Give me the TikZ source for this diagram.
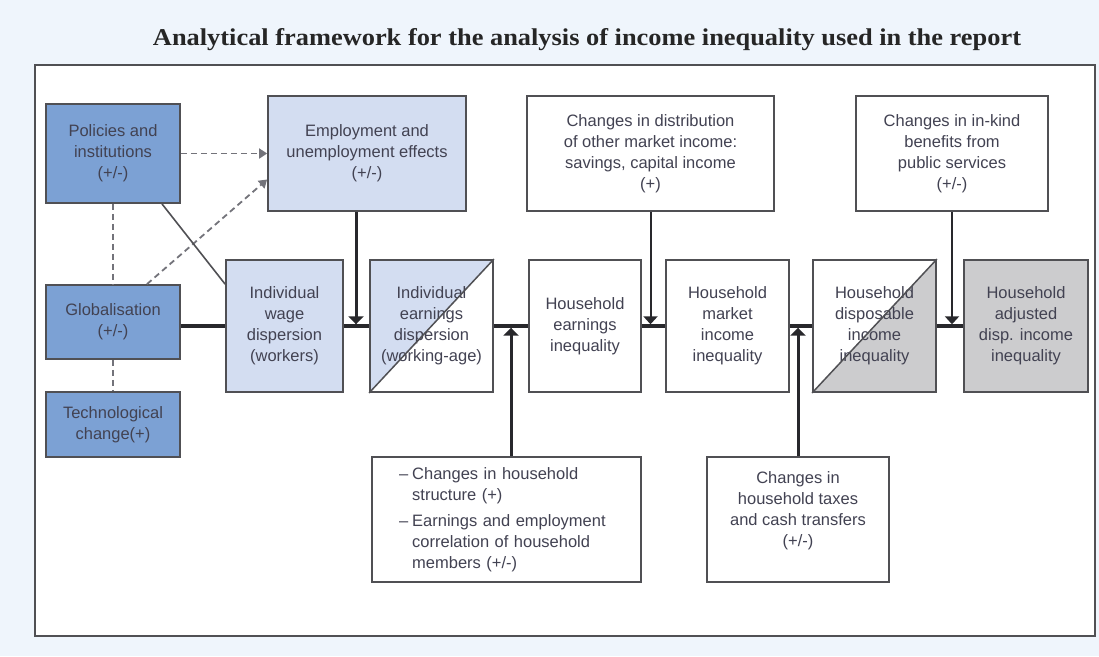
\documentclass[tikz,border=0pt]{standalone}
\usepackage{graphicx}
\usepackage{fontspec}
\setmainfont{Liberation Sans}
\newfontfamily\titlefont{Liberation Serif}
\usetikzlibrary{arrows.meta,calc}
\definecolor{bgblue}{RGB}{239,245,252}
\definecolor{darkblue}{RGB}{124,161,212}
\definecolor{lightblue}{RGB}{211,221,241}
\definecolor{boxgray}{RGB}{204,204,206}
\definecolor{boxline}{RGB}{80,80,84}
\definecolor{txt}{RGB}{66,66,82}
\definecolor{flowcol}{RGB}{40,40,44}
\definecolor{dashcol}{RGB}{115,115,122}
\begin{document}
\begin{tikzpicture}[x=1pt,y=-1pt,
  box/.style={draw=boxline, line width=1.8pt, align=center, inner sep=2pt,
    text=txt, font=\fontsize{16.5}{21}\selectfont},
  flow/.style={draw=flowcol, line width=3.4pt},
  arr/.style={draw=flowcol, line width=3pt, -{Triangle[length=8pt,width=15pt]}},
  thinarr/.style={draw=flowcol, line width=2pt, -{Triangle[length=8pt,width=14pt]}},
  dashline/.style={draw=dashcol, line width=1.8pt, dash pattern=on 6pt off 4pt},
  diag/.style={draw=boxline, line width=1.5pt}
]
\useasboundingbox (0,0) rectangle (1099,656);
\fill[bgblue] (0,0) rectangle (1099,656);
\draw[draw=boxline, fill=white, line width=2.2pt] (35,65) rectangle (1095,636);

\node[anchor=base, text=black!85, inner sep=0pt] (title) at (587,45)
  {\resizebox{868pt}{17pt}{\titlefont\bfseries Analytical framework for the analysis of income inequality used in the report}};

% left drivers
\node[box, fill=darkblue, minimum width=134pt, minimum height=99pt] (pol) at (113,153.5)
  {Policies and\\institutions\\(+/-)};
\node[box, fill=darkblue, minimum width=134pt, minimum height=74pt] (glob) at (113,322)
  {Globalisation\\(+/-)};
\node[box, fill=darkblue, minimum width=134pt, minimum height=65pt] (tech) at (113,424.5)
  {Technological\\change(+)};

% top boxes
\node[box, fill=lightblue, minimum width=198pt, minimum height=115pt] (emp) at (367,153.5)
  {Employment and\\unemployment effects\\(+/-)};
\node[box, fill=white, minimum width=247pt, minimum height=115pt] (dist) at (650.5,153.5)
  {Changes in distribution\\of other market income:\\savings, capital income\\(+)};
\node[box, fill=white, minimum width=192pt, minimum height=115pt] (kind) at (952,153.5)
  {Changes in in-kind\\benefits from\\public services\\(+/-)};

% main row
\node[box, fill=lightblue, minimum width=117pt, minimum height=132pt] (wage) at (284.5,326)
  {Individual\\wage\\dispersion\\(workers)};
% split box earnings
\fill[white] (370,260) rectangle (493,392);
\fill[lightblue] (370,260) -- (493,260) -- (370,392) -- cycle;
\node[box, minimum width=123pt, minimum height=132pt] (earn) at (431.5,326)
  {Individual\\earnings\\dispersion\\(working-age)};
\draw[diag] (earn.south west) -- (earn.north east);

\node[box, fill=white, minimum width=112pt, minimum height=132pt] (hhe) at (585,326)
  {Household\\earnings\\inequality};
\node[box, fill=white, minimum width=123pt, minimum height=132pt] (mkt) at (727.5,326)
  {Household\\market\\income\\inequality};
% split box disposable
\fill[white] (813,260) rectangle (936,392);
\fill[boxgray] (936,260) -- (936,392) -- (813,392) -- cycle;
\node[box, minimum width=123pt, minimum height=132pt] (disp) at (874.5,326)
  {Household\\disposable\\income\\inequality};
\draw[diag] (disp.south west) -- (disp.north east);
\node[box, fill=boxgray, minimum width=124pt, minimum height=132pt] (adj) at (1026,326)
  {Household\\adjusted\\disp. income\\inequality};

% bottom boxes
\node[box, fill=white, minimum width=269pt, minimum height=125pt, text width=215pt,
  inner xsep=27pt, align=left] (struct) at (506.5,519.5)
  {\begin{tabular}{@{}l@{\hspace{4pt}}l@{}}
   -- & Changes in household\\
      & structure (+)\\[5pt]
   -- & Earnings and employment\\
      & correlation of household\\
      & members (+/-)
   \end{tabular}};
\node[box, fill=white, minimum width=182pt, minimum height=125pt] (tax) at (798,519.5)
  {Changes in\\household taxes\\and cash transfers\\(+/-)\\ {}};

% junction coordinates
\coordinate (j1) at (356,326);
\coordinate (j4) at (511,326);

% flow lines
\draw[flow] (glob.east |- wage.west) -- (wage.west);
\draw[flow] (wage.east) -- (earn.west);
\draw[flow] (earn.east) -- (hhe.west);
\draw[flow] (hhe.east) -- (mkt.west);
\draw[flow] (mkt.east) -- (disp.west);
\draw[flow] (disp.east) -- (adj.west);

% vertical arrows
\draw[arr] (emp.south -| j1) -- ([yshift=1.7pt]j1);
\draw[arr] (struct.north -| j4) -- ([yshift=-1.7pt]j4);
\draw[arr] (tax.north) -- ([yshift=-1.7pt]tax.north |- mkt.east);
\draw[thinarr] (dist.south) -- ([yshift=1.7pt]dist.south |- hhe.east);
\draw[thinarr] (kind.south) -- ([yshift=1.7pt]kind.south |- adj.west);

% left connections
\draw[dashline, -{Triangle[length=8pt,width=10pt]}] (pol.east) -- (emp.west |- pol.east);
\draw[dashline, -{Triangle[length=8pt,width=10pt]}] ($(glob.north)+(34,0)$) -- ($(emp.west)+(0,26)$);
\draw[draw=boxline, line width=1.6pt] ($(pol.south)+(49,0)$) -- ($(wage.north west)+(0,25)$);
\draw[dashline] (pol.south) -- (glob.north);
\draw[dashline] (glob.south) -- (tech.north);
\end{tikzpicture}
\end{document}
